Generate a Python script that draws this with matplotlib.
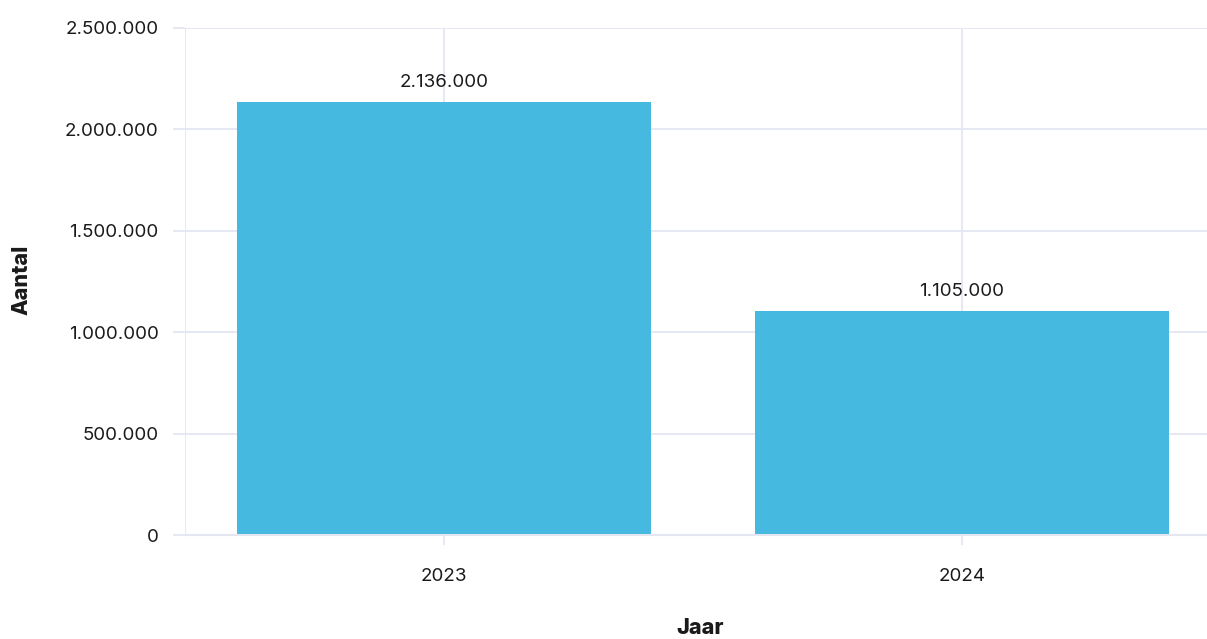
import matplotlib.pyplot as plt
from matplotlib.ticker import FuncFormatter

# data
jaren = ["2023", "2024"]
aantallen = [2136000, 1105000]

grid_kleur = "#e4e6f2"
balk_kleur = "#46b9e0"
tekst_kleur = "#1a1a1a"

plt.rcParams['font.family'] = ['Inter', 'DejaVu Sans']


def punt_format(v, pos=None):
    return f"{int(v):,}".replace(",", ".")


fig = plt.figure(figsize=(12.07, 6.39), dpi=100)
ax = fig.add_axes([185 / 1207, 1 - 535 / 639, 1 - 185 / 1207, (535 - 28) / 639])

x = list(range(len(jaren)))
bars = ax.bar(x, aantallen, width=0.8, color=balk_kleur, zorder=3)

for xi, v in zip(x, aantallen):
    ax.annotate(punt_format(v), (xi, v), xytext=(0, 8), textcoords="offset points",
                ha="center", va="bottom", fontsize=13.5, color=tekst_kleur)

ax.set_ylim(0, 2500000)
ax.set_xlim(-0.5, (1207 - 185) / 518 - 0.5)
ax.set_yticks(range(0, 2500001, 500000))
ax.yaxis.set_major_formatter(FuncFormatter(punt_format))
ax.set_xticks(x)
ax.set_xticklabels(jaren)

# gridlines
for yv in range(0, 2500001, 500000):
    ax.axhline(yv, color=grid_kleur, lw=1.3, zorder=1)
for xv in [-0.5, 0, 1]:
    ax.axvline(xv, color=grid_kleur, lw=1.3, zorder=1)

for s in ax.spines.values():
    s.set_visible(False)
ax.spines['bottom'].set_visible(True)
ax.spines['bottom'].set_color(grid_kleur)
ax.spines['bottom'].set_linewidth(1.5)
ax.spines['bottom'].set_zorder(4)

ax.tick_params(axis='y', length=9, width=1.3, color=grid_kleur, labelsize=13.5,
               labelcolor=tekst_kleur, pad=10)
ax.tick_params(axis='x', length=7, width=1.3, color=grid_kleur, labelsize=13.5,
               labelcolor=tekst_kleur, pad=17)

fig.text(22 / 1207, 1 - 280 / 639, "Aantal", rotation=90, ha="center", va="center",
         fontsize=15.5, fontweight="heavy", color=tekst_kleur)
fig.text(700 / 1207, 1 - 628 / 639, "Jaar", ha="center", va="center",
         fontsize=15.5, fontweight="heavy", color=tekst_kleur)

fig.savefig("out.png", dpi=100)
